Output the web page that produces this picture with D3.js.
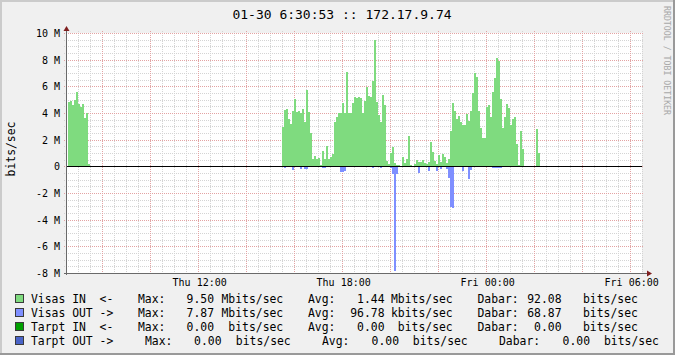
<!DOCTYPE html>
<html><head><meta charset="utf-8">
<script src="https://cdn.jsdelivr.net/npm/d3@7"></script>
<style>
html,body{margin:0;padding:0;background:#F0F0F0;}
svg{display:block;}
text{font-family:"DejaVu Sans Mono",monospace;white-space:pre;}
</style></head><body><svg id="chart" width="675" height="355"></svg>
<script>
// ---------- data ----------
const title = "01-30 6:30:53 :: 172.17.9.74";
const yAxisLabel = "bits/sec";
const watermark = "RRDTOOL / TOBI OETIKER";
const rangeStart = "2015-01-29 06:30:53";
const rangeEnd = "2015-01-30 06:30:53";
const stepMinutes = 5;

const block1Start = "2015-01-29 06:35:00";
const block1In = [4.83, 4.93, 4.63, 4.98, 5.58, 4.68, 4.48, 4.68, 3.63, 3.98, 0.18];
const block1Out = [0.06, 0.06, 0.06, 0.06, 0.06, 0.06, 0.06, 0.06, 0.06, 0.06, 0.02];

const block2Start = "2015-01-29 15:30:00";
const block2In = [
  2.95, 4.23, 4.3, 3.55, 3.15, 4.15, 5.05, 4.1, 4.15, 3.98,
  4.3, 3.35, 5.75, 4.05, 2.48, 0.55, 0.78, 0.55, 0.65, 0.1,
  1.18, 0.55, 1.53, 0.55, 0.68, 0.93, 3.3, 3.68, 4.0, 4.0,
  4.73, 4.0,
  7.08, 4.03, 4.03, 4.73, 5.2, 5.13, 5.2, 5.13, 4.03, 4.93,
  5.98, 5.28, 5.2, 6.43, 9.5, 4.8, 3.83, 3.33, 5.35, 4.6,
  0.43, 0.18, 0.98, 1.45, 0.28, 0.1, 0.08, 0.02, 0.7, 0.28,
  0.55, 2.28, 0.1, 0.05, 0.18,
  0.5, 0.3, 0.35, 0.5, 0.25, 0.15, 0.35, 1.83, 1.1, 0.4,
  0.2, 0.85, 0.35, 0.9, 0.7, 0.25, 0.55, 2.65, 4.78, 4.18,
  3.53, 3.78, 3.35, 3.1, 3.1, 3.9, 3.43, 4.18, 5.53, 6.98,
  6.73, 4.18, 2.85, 2.1, 2.1,
  4.48, 4.6, 3.68, 5.55, 6.6, 8.1, 7.93, 5.03, 2.85, 3.73,
  4.68, 4.35, 3.1, 3.53, 3.68, 1.68, 0.1, 2.68, 1.28,
  null, null, null, null, null, null,
  2.8, 1.03
];
const block2Out = [
  0.08, 0.15, 0.08, 0.08, 0.08, 0.25, 0.08, 0.05, 0.05, 0.18,
  0.05, 0.18, 0.18, 0.08, 0.05, 0.05, 0.05, 0.05, 0.05, 0.05,
  0.1, 0.1, 0.05, 0.05, 0.05, 0.05, 0.05, 0.05, 0.05, 0.4,
  0.4, 0.33, 0.05, 0.05, 0.05, 0.05, 0.05, 0.05, 0.05, 0.05,
  0.05, 0.05, 0.05, 0.05, 0.05, 0.15, 0.05, 0.05, 0.05, 0.15,
  0.05, 0.05, 0.05, 0.05, 0.15, 0.58, 7.87, 0.58, 0.05, 0.05,
  0.05, 0.05, 0.05, 0.05, 0.05, 0.05, 0.05, 0.05, 0.48, 0.05,
  0.05, 0.05, 0.05, 0.33, 0.05, 0.05, 0.05, 0.35, 0.05, 0.23,
  0.05, 0.05, 0.2, 0.85, 3.03, 3.15, 0.05, 0.05, 0.05, 0.05,
  0.33, 0.05, 0.05, 0.98, 0.28, 0.08, 0.08, 0.08, 0.08, 0.08,
  0.08, 0.08, 0.08, 0.08, 0.08, 0.15, 0.15, 0.15, 0.15, 0.15,
  0.05, 0.05, 0.05, 0.05, 0.05, 0.05, 0.05, 0.05, 0.05, 0.05,
  0.05, null, null, null, null, null, null, 0.08, 0.08
];

const yDomain = [-8, 10];
const yTicks = [-8, -6, -4, -2, 0, 2, 4, 6, 8, 10];
const yTickLabels = ["-8 M", "-6 M", "-4 M", "-2 M", "0", "2 M", "4 M", "6 M", "8 M", "10 M"];
const xTickTimes = ["2015-01-29 12:00:00", "2015-01-29 18:00:00", "2015-01-30 00:00:00", "2015-01-30 06:00:00"];
const xTickLabels = ["Thu 12:00", "Thu 18:00", "Fri 00:00", "Fri 06:00"];

const seriesNames = ["Visas IN  <-", "Visas OUT ->", "Tarpt IN  <-", "Tarpt OUT ->"];
const seriesColors = ["#7FDB7F", "#7F8FFF", "#00A000", "#4A64C8"];
const maxValues = ["9.50", "7.87", "0.00", "0.00"];
const maxUnits = ["Mbits/sec", "Mbits/sec", " bits/sec", " bits/sec"];
const avgValues = ["1.44", "96.78", "0.00", "0.00"];
const avgUnits = ["Mbits/sec", "kbits/sec", " bits/sec", " bits/sec"];
const curValues = ["92.08", "68.87", "0.00", "0.00"];
const curUnits = ["bits/sec", "bits/sec", "bits/sec", "bits/sec"];

// ---------- drawing ----------
const parse = d3.timeParse("%Y-%m-%d %H:%M:%S");
const W = 675, H = 355;
const plot = {left: 66, right: 642, top: 33, bottom: 273};
const svg = d3.select("#chart");

const x = d3.scaleTime().domain([parse(rangeStart), parse(rangeEnd)]).range([plot.left, plot.right]);
const y = d3.scaleLinear().domain(yDomain).range([plot.bottom, plot.top]);

// background + frame
svg.append("rect").attr("width", W).attr("height", H).attr("fill", "#F0F0F0");
svg.append("rect").attr("x", plot.left).attr("y", plot.top)
  .attr("width", plot.right - plot.left).attr("height", plot.bottom - plot.top).attr("fill", "#FFFFFF");
const frame = svg.append("g").attr("shape-rendering", "crispEdges");
frame.append("rect").attr("x", 0).attr("y", 0).attr("width", W).attr("height", 2).attr("fill", "#CBCBCB");
frame.append("rect").attr("x", 0).attr("y", 0).attr("width", 2).attr("height", H).attr("fill", "#CBCBCB");
frame.append("rect").attr("x", 0).attr("y", H - 2).attr("width", W).attr("height", 2).attr("fill", "#999999");
frame.append("rect").attr("x", W - 2).attr("y", 0).attr("width", 2).attr("height", H).attr("fill", "#999999");

// grid
const grid = svg.append("g").attr("shape-rendering", "crispEdges").attr("stroke-width", 1).attr("stroke-dasharray", "1,1");
const minorY = d3.range(yDomain[0], yDomain[1] + 0.001, 0.5).filter(v => Math.abs(v % 2) > 0.01);
const cy = v => Math.round(y(v)) + 0.5;
grid.selectAll(".hmin").data(minorY).join("line")
  .attr("x1", plot.left - 2).attr("x2", plot.right + 2)
  .attr("y1", cy).attr("y2", cy).attr("stroke", "#D4D4D4");
const t0 = parse(rangeStart), t1 = parse(rangeEnd);
const majorT = d3.timeHour.every(2).range(t0, t1);
const minorT = d3.timeMinute.every(30).range(t0, t1).filter(t => t.getMinutes() !== 0 || t.getHours() % 2 !== 0);
const cx = t => Math.round(x(t)) + 0.5;
grid.selectAll(".vmin").data(minorT).join("line")
  .attr("x1", cx).attr("x2", cx).attr("y1", plot.top - 2).attr("y2", plot.bottom + 2).attr("stroke", "#D4D4D4");
grid.selectAll(".hmaj").data(yTicks).join("line")
  .attr("x1", plot.left - 2).attr("x2", plot.right + 2)
  .attr("y1", cy).attr("y2", cy).attr("stroke", "#E3A3A3");
grid.selectAll(".vmaj").data(majorT).join("line")
  .attr("x1", cx).attr("x2", cx).attr("y1", plot.top - 2).attr("y2", plot.bottom + 2).attr("stroke", "#E3A3A3");

// data bars
function toPoints(startStr, inVals, outVals) {
  const s = parse(startStr);
  return inVals.map((v, i) => ({
    t0: d3.timeMinute.offset(s, i * stepMinutes),
    t1: d3.timeMinute.offset(s, (i + 1) * stepMinutes),
    vin: v, vout: outVals[i]
  }));
}
const points = toPoints(block1Start, block1In, block1Out).concat(toPoints(block2Start, block2In, block2Out));
svg.append("clipPath").attr("id", "pc").append("rect")
  .attr("x", plot.left).attr("y", plot.top).attr("width", plot.right - plot.left).attr("height", plot.bottom - plot.top);
const bars = svg.append("g").attr("clip-path", "url(#pc)").attr("shape-rendering", "crispEdges");
bars.selectAll(".in").data(points.filter(d => d.vin != null)).join("rect")
  .attr("x", d => x(d.t0)).attr("width", d => x(d.t1) - x(d.t0))
  .attr("y", d => y(d.vin)).attr("height", d => y(0) - y(d.vin))
  .attr("fill", seriesColors[0]);
bars.selectAll(".out").data(points.filter(d => d.vout != null)).join("rect")
  .attr("x", d => x(d.t0)).attr("width", d => x(d.t1) - x(d.t0))
  .attr("y", y(0)).attr("height", d => y(-d.vout) - y(0))
  .attr("fill", seriesColors[1]);

// zero line
svg.append("line").attr("shape-rendering", "crispEdges")
  .attr("x1", plot.left).attr("x2", plot.right).attr("y1", cy(0)).attr("y2", cy(0))
  .attr("stroke", "#000").attr("stroke-width", 1);

// axes
const ax = svg.append("g").attr("shape-rendering", "crispEdges");
ax.append("line").attr("x1", plot.left + 0.5).attr("x2", plot.left + 0.5)
  .attr("y1", plot.bottom + 2).attr("y2", plot.top - 5).attr("stroke", "#6A6A6A");
ax.append("line").attr("x1", plot.left - 2).attr("x2", plot.right + 6)
  .attr("y1", plot.bottom + 0.5).attr("y2", plot.bottom + 0.5).attr("stroke", "#6A6A6A");
svg.append("path").attr("d", `M${plot.left - 2.5},${plot.top - 2}L${plot.left + 3.5},${plot.top - 2}L${plot.left + 0.5},${plot.top - 7}Z`).attr("fill", "#7F1F1F");
svg.append("path").attr("d", `M${plot.right + 5},${plot.bottom - 2.5}L${plot.right + 5},${plot.bottom + 3.5}L${plot.right + 10},${plot.bottom + 0.5}Z`).attr("fill", "#7F1F1F");

// y tick labels
svg.append("g").selectAll("text").data(yTicks).join("text")
  .attr("x", plot.left - 6).attr("y", d => y(d) + 4)
  .attr("text-anchor", "end").attr("font-size", 10).attr("fill", "#000")
  .text((d, i) => yTickLabels[i]);

// x tick labels
svg.append("g").selectAll("text").data(xTickTimes).join("text")
  .attr("x", d => x(parse(d)) + 2).attr("y", plot.bottom + 12.5)
  .attr("text-anchor", "middle").attr("font-size", 10).attr("fill", "#000")
  .text((d, i) => xTickLabels[i]);

// title
svg.append("text").attr("x", 342).attr("y", 18.5).attr("text-anchor", "middle")
  .attr("font-size", 13).attr("fill", "#000").text(title);

// y axis label
svg.append("text").attr("transform", "translate(15,149) rotate(-90)")
  .attr("text-anchor", "middle").attr("font-size", 11.4).attr("fill", "#000").text(yAxisLabel);

// watermark
svg.append("text").attr("transform", "translate(663.5,6) rotate(90)")
  .attr("font-size", 9.5).attr("fill", "#A8A8A8")
  .attr("textLength", 109).attr("lengthAdjust", "spacingAndGlyphs").text(watermark);

// legend
const colsStd = {maxL: 138, maxV: 214, maxU: 221.5, avgL: 308, avgV: 384.5, avgU: 391, curL: 477.5, curV: 561.5, curU: 583};
const colsLast = {maxL: 145, maxV: 221.5, maxU: 229, avgL: 322, avgV: 399, avgU: 406, curL: 499, curV: 590, curU: 604};
const leg = svg.append("g").attr("font-size", 11.4).attr("fill", "#000");
seriesNames.forEach((name, i) => {
  const by = 303 + i * 14;
  const c = i === 3 ? colsLast : colsStd;
  leg.append("rect").attr("x", 15.5).attr("y", by - 8.5).attr("width", 8).attr("height", 8)
    .attr("fill", seriesColors[i]).attr("stroke", "#3A3A3A").attr("stroke-width", 1).attr("shape-rendering", "crispEdges");
  const put = (xx, s, anchor) => leg.append("text").attr("x", xx).attr("y", by).attr("text-anchor", anchor || "start").text(s);
  put(31, name);
  put(c.maxL, "Max:"); put(c.maxV, maxValues[i], "end"); put(c.maxU, maxUnits[i]);
  put(c.avgL, "Avg:"); put(c.avgV, avgValues[i], "end"); put(c.avgU, avgUnits[i]);
  put(c.curL, "Dabar:"); put(c.curV, curValues[i], "end"); put(c.curU, curUnits[i]);
});
</script></body></html>
